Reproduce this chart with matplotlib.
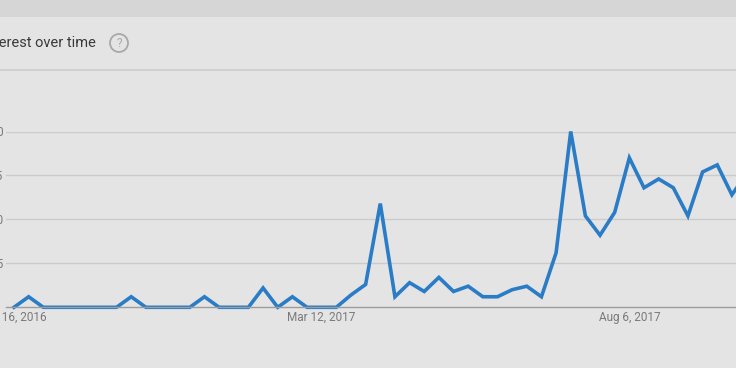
import matplotlib.pyplot as plt
import matplotlib.patches as mpatches
import pandas as pd

# weekly search interest, Oct 16 2016 onwards
start_date = "2016-10-16"
interest = [0, 6, 0, 0, 0, 0, 0, 0, 6, 0,
            0, 0, 0, 6, 0, 0, 0, 11, 0, 6,
            0, 0, 0, 7, 13, 59, 6, 14, 9, 17,
            9, 12, 6, 6, 10, 12, 6, 31, 100, 52,
            41, 54, 85, 68, 73, 68, 52, 77, 81, 64,
            76]
x_ticks = ["2016-10-16", "2017-03-12", "2017-08-06"]
x_labels = ["Oct 16, 2016", "Mar 12, 2017", "Aug 6, 2017"]
y_ticks = [25, 50, 75, 100]
title = "Interest over time"

dates = pd.date_range(start_date, periods=len(interest), freq="7D")

BG = "#e4e4e4"
W, H = 736, 368
fig = plt.figure(figsize=(W / 100, H / 100), dpi=100, facecolor=BG)

# top band and header separator
fig.add_artist(mpatches.Rectangle((0, 1 - 17 / H), 1, 17 / H, transform=fig.transFigure,
                                  color="#d6d6d6", lw=0))
fig.add_artist(mpatches.Rectangle((0, 1 - 71 / H), 1, 2 / H, transform=fig.transFigure,
                                  color="#d0d0d0", lw=0))

# title (cut off at left edge like the screenshot)
fig.text(96 / W, 1 - 43 / H, title, ha="right", va="center", fontsize=10.5,
         family="Roboto", color="#3a3a3a")
# help icon
fig.add_artist(mpatches.Ellipse((119 / W, 1 - 43 / H), 18 / W, 18 / H, transform=fig.transFigure,
                                fill=False, ec="#a8a8a8", lw=1.3))
fig.text(119 / W, 1 - 43.5 / H, "?", ha="center", va="center", fontsize=8.5,
         family="Roboto", color="#a8a8a8")

ax = fig.add_axes([6 / W, (H - 307.3) / H, 1 - 6 / W, (307.3 - 131.5) / H])
ax.set_facecolor(BG)
ax.plot(dates, interest, color="#2a7cc6", lw=2.6, solid_joinstyle="miter", clip_on=False)

day0 = dates[0]
ax.set_xlim(day0 - pd.Timedelta(days=0.546 * 7), day0 + pd.Timedelta(days=49.28 * 7))
ax.set_ylim(0, 100)

ax.set_xticks(pd.to_datetime(x_ticks))
ax.set_xticklabels(x_labels)
ax.set_yticks(y_ticks)
ax.set_yticklabels([str(v) for v in y_ticks])
ax.tick_params(length=0, labelsize=8.5, labelcolor="#7a7a7a", pad=2)
for lab in ax.get_xticklabels() + ax.get_yticklabels():
    lab.set_family("Roboto")
ax.tick_params(axis="x", pad=2.5)

ax.grid(axis="y", color="#cbcbcb", lw=1)
ax.grid(axis="x", visible=False)
ax.set_axisbelow(True)
for s in ["top", "right", "left"]:
    ax.spines[s].set_visible(False)
ax.spines["bottom"].set_color("#9c9c9c")
ax.spines["bottom"].set_linewidth(1)

fig.savefig("out.png", dpi=100, facecolor=BG)
